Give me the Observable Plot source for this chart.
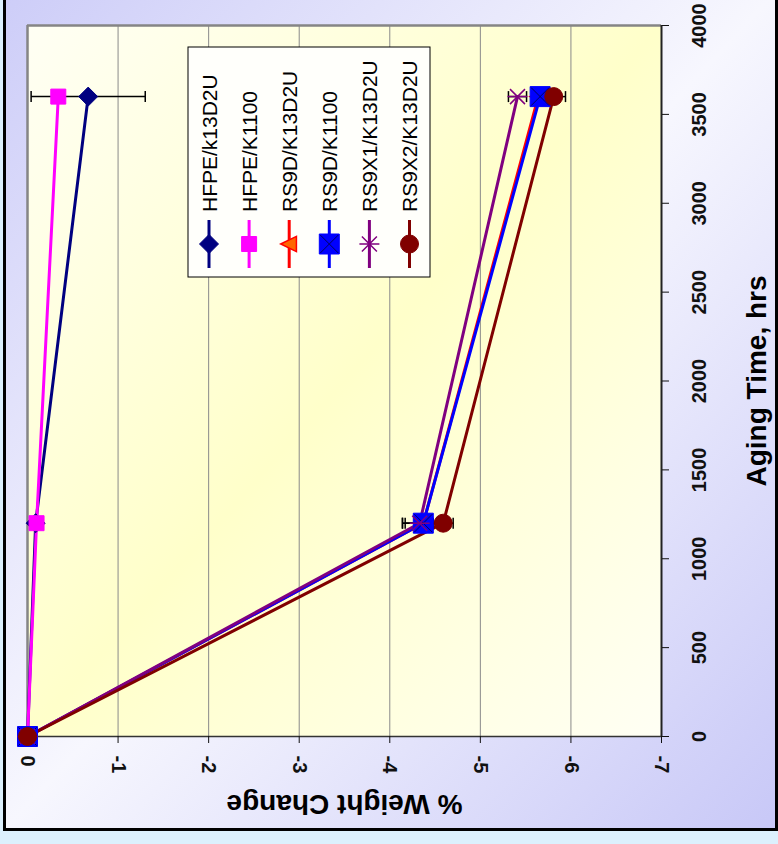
<!DOCTYPE html>
<html><head><meta charset="utf-8">
<script src="https://cdn.jsdelivr.net/npm/d3@7"></script>
<script src="https://cdn.jsdelivr.net/npm/@observablehq/plot@0.6"></script>
<style>
html,body{margin:0;padding:0;}
body{width:778px;height:844px;background:#dcf0fd;position:relative;overflow:hidden;font-family:"Liberation Sans",Arial,sans-serif;}
#frame{position:absolute;left:3px;top:-10px;width:775px;height:841px;box-sizing:border-box;border:3px solid #000;background:linear-gradient(to bottom right,#cdcdf8 0%,#f7f7fe 50%,#c8c8f7 100%);}
#chart{position:absolute;left:0;top:0;}
</style></head><body>
<div id="frame"></div><div id="chart"></div>
<script>
// ---- data ----
const hours = [0, 1200, 3600];
const seriesNames = ["HFPE/K13D2U", "HFPE/K1100", "RS9D/K13D2U", "RS9D/K1100", "RS9X1/K13D2U", "RS9X2/K13D2U"];
const legendNames = ["HFPE/k13D2U", "HFPE/K1100", "RS9D/K13D2U", "RS9D/K1100", "RS9X1/K13D2U", "RS9X2/K13D2U"];
const hfpeK13D2U = [0, -0.09, -0.67];
const hfpeK1100 = [0, -0.10, -0.34];
const rs9dK13D2U = [0, -4.37, -5.64];
const rs9dK1100 = [0, -4.37, -5.66];
const rs9x1K13D2U = [0, -4.33, -5.41];
const rs9x2K13D2U = [0, -4.59, -5.81];
const errHfpeK13D2U = [0, 0.02, 0.63];
const errHfpeK1100 = [0, 0.02, 0.03];
const errRs9dK13D2U = [0, 0.2, 0.05];
const errRs9dK1100 = [0, 0.23, 0.06];
const errRs9x1K13D2U = [0, 0.19, 0.10];
const errRs9x2K13D2U = [0, 0.11, 0.13];
const xTicks = [0, -1, -2, -3, -4, -5, -6, -7];
const yTicks = [0, 500, 1000, 1500, 2000, 2500, 3000, 3500, 4000];
const xTitle = "% Weight Change";
const yTitle = "Aging Time, hrs";

const seriesValues = [hfpeK13D2U, hfpeK1100, rs9dK13D2U, rs9dK1100, rs9x1K13D2U, rs9x2K13D2U];
const seriesErrors = [errHfpeK13D2U, errHfpeK1100, errRs9dK13D2U, errRs9dK1100, errRs9x1K13D2U, errRs9x2K13D2U];

// ---- symbols ----
const R = s => Math.sqrt(s / Math.PI);
const sym = {
  diamond: {draw(c, s) { const r = R(s); c.moveTo(0, -r); c.lineTo(r, 0); c.lineTo(0, r); c.lineTo(-r, 0); c.closePath(); }},
  square: {draw(c, s) { const r = R(s); c.rect(-r, -r, 2 * r, 2 * r); }},
  triLeft: {draw(c, s) { const r = R(s); c.moveTo(-r, 0); c.lineTo(r * 0.85, -r * 0.9); c.lineTo(r * 0.85, r * 0.9); c.closePath(); }},
  cross: {draw(c, s) { const r = R(s); c.moveTo(-r, -r); c.lineTo(r, r); c.moveTo(-r, r); c.lineTo(r, -r); }},
  asterisk: {draw(c, s) { const r = R(s); const d = r * 0.75; c.moveTo(-d, -d); c.lineTo(d, d); c.moveTo(-d, d); c.lineTo(d, -d); c.moveTo(-r, 0); c.lineTo(r, 0); }},
  circle: {draw(c, s) { const r = R(s); c.moveTo(r, 0); c.arc(0, 0, r, 0, 2 * Math.PI); }},
  cap: {draw(c, s) { const r = R(s); c.moveTo(0, -r); c.lineTo(0, r); }}
};

const styles = [
  {color: "#000080", layers: [{symbol: sym.diamond, r: 9.5, fill: "#000080", stroke: "#000080", sw: 1}]},
  {color: "#ff00ff", layers: [{symbol: sym.square, r: 7.5, fill: "#ff00ff", stroke: "#ff00ff", sw: 1}]},
  {color: "#ff0000", layers: [{symbol: sym.triLeft, r: 8.5, fill: "#ff6600", stroke: "#ff0000", sw: 1.5}]},
  {color: "#0000ff", layers: [{symbol: sym.square, r: 10, fill: "#0000ff", stroke: "#0000ff", sw: 1}, {symbol: sym.cross, r: 9, fill: "none", stroke: "#000060", sw: 1}]},
  {color: "#800080", layers: [{symbol: sym.asterisk, r: 10, fill: "none", stroke: "#800080", sw: 1.5}]},
  {color: "#800000", layers: [{symbol: sym.circle, r: 9, fill: "#800000", stroke: "#800000", sw: 1}]}
];

const rows = seriesNames.map((name, i) => hours.map((h, j) => ({series: name, hours: h, value: seriesValues[i][j], err: seriesErrors[i][j]})));
const allRows = rows.flat();
const errRows = allRows.filter(d => d.err > 0);

const marks = [
  Plot.frame({fill: "url(#plotBg)", stroke: "none"}),
  Plot.ruleX(xTicks.slice(1, -1), {stroke: "#8a8a8a", strokeWidth: 1}),
  Plot.ruleX([0], {stroke: "#858585", strokeWidth: 2.5}),
  Plot.ruleY([4000], {stroke: "#858585", strokeWidth: 2.5}),
  Plot.ruleY([0], {stroke: "#333", strokeWidth: 1.5}),
  Plot.ruleX([-7], {stroke: "#222", strokeWidth: 2}),
  Plot.axisX({ticks: xTicks, tickSize: 7, tickPadding: 12, tickRotate: 90, textAnchor: "start", lineAnchor: "middle",
    tickFormat: d => String(d), fontSize: 20, fontWeight: "bold", color: "#111", label: null}),
  Plot.axisY({anchor: "right", ticks: yTicks, tickSize: 7, tickPadding: 31, tickRotate: -90, textAnchor: "middle", lineAnchor: "middle",
    tickFormat: d => String(d), fontSize: 20, fontWeight: "bold", color: "#111", label: null}),
  Plot.text([xTitle], {frameAnchor: "bottom", dy: 67, rotate: 180, textAnchor: "middle", lineAnchor: "middle", text: d => d, fontSize: 28, fontWeight: "bold", fill: "#000"}),
  Plot.text([yTitle], {frameAnchor: "right", dx: 96, rotate: -90, textAnchor: "middle", lineAnchor: "middle", text: d => d, fontSize: 28, fontWeight: "bold", fill: "#000"})
];
rows.forEach((r, i) => marks.push(Plot.line(r, {x: "value", y: "hours", stroke: styles[i].color, strokeWidth: 3})));
marks.push(Plot.link(errRows, {x1: d => d.value - d.err, x2: d => d.value + d.err, y1: "hours", y2: "hours", stroke: "#000", strokeWidth: 1.5}));
marks.push(Plot.dot(errRows, {x: d => d.value - d.err, y: "hours", symbol: sym.cap, r: 5.5, fill: "none", stroke: "#000", strokeWidth: 1.5}));
marks.push(Plot.dot(errRows, {x: d => d.value + d.err, y: "hours", symbol: sym.cap, r: 5.5, fill: "none", stroke: "#000", strokeWidth: 1.5}));
rows.forEach((r, i) => styles[i].layers.forEach(l => marks.push(Plot.dot(r, {x: "value", y: "hours", symbol: l.symbol, r: l.r, fill: l.fill, stroke: l.stroke, strokeWidth: l.sw}))));

const svgEl = Plot.plot({
  width: 778, height: 844,
  marginLeft: 27, marginRight: 117, marginTop: 25, marginBottom: 108,
  x: {domain: [0, -7]},
  y: {domain: [0, 4000]},
  style: {background: "transparent", fontFamily: "'Liberation Sans', Arial, sans-serif", overflow: "visible"},
  marks
});
document.getElementById("chart").appendChild(svgEl);

const svg = d3.select(svgEl);
const defs = svg.insert("defs", ":first-child");
const g = defs.append("linearGradient").attr("id", "plotBg").attr("x1", 0).attr("y1", 0).attr("x2", 1).attr("y2", 1);
g.append("stop").attr("offset", "0%").attr("stop-color", "#fffff4");
g.append("stop").attr("offset", "50%").attr("stop-color", "#ffffca");
g.append("stop").attr("offset", "100%").attr("stop-color", "#fffff4");

// ---- legend ----
const lg = svg.append("g").attr("font-family", "'Liberation Sans', Arial, sans-serif").attr("text-anchor", "start");
lg.append("rect").attr("x", 188).attr("y", 47).attr("width", 242).attr("height", 230).attr("fill", "#fffffb").attr("stroke", "#000").attr("stroke-width", 1);
legendNames.forEach((name, i) => {
  const cx = 209 + i * 40.1;
  lg.append("line").attr("x1", cx).attr("x2", cx).attr("y1", 220).attr("y2", 268).attr("stroke", styles[i].color).attr("stroke-width", 3);
  styles[i].layers.forEach(l => {
    lg.append("path").attr("transform", `translate(${cx},244)`)
      .attr("d", d3.symbol(l.symbol, l.r * l.r * Math.PI)())
      .attr("fill", l.fill).attr("stroke", l.stroke).attr("stroke-width", l.sw);
  });
  lg.append("text").attr("transform", `translate(${cx},212) rotate(-90)`).attr("dy", "0.36em")
    .attr("text-anchor", "start").attr("font-size", 21).attr("fill", "#000").attr("stroke", "none").text(name);
});
</script>
</body></html>
